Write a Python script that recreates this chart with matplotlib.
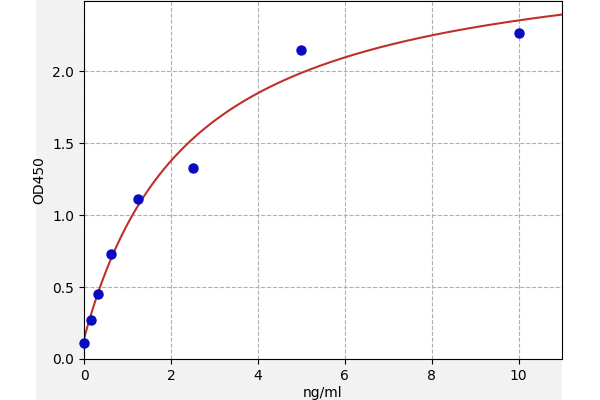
import numpy as np
import matplotlib
matplotlib.use('Agg')
import matplotlib.pyplot as plt
from matplotlib.patches import Rectangle

# standard points (ng/ml vs OD450)
conc = [0, 0.156, 0.3125, 0.625, 1.25, 2.5, 5, 10]
od450 = [0.111, 0.273, 0.453, 0.731, 1.113, 1.326, 2.148, 2.268]

# 4PL fit parameters: bottom, slope, ec50, top
fit_a = 0.14
fit_b = 1.0
fit_c = 2.46
fit_d = 2.9

x_ticks = [0, 2, 4, 6, 8, 10]
y_ticks = [0.0, 0.5, 1.0, 1.5, 2.0]


def four_pl(x, a, b, c, d):
    return d + (a - d) / (1 + (x / c) ** b)


fig = plt.figure(figsize=(6, 4), dpi=100)
fig.patch.set_facecolor('white')
# grey background block of the cropped figure
fig.patches.append(Rectangle((36 / 600, 0), (562 - 36) / 600, 1, transform=fig.transFigure,
                             facecolor='#f2f2f2', edgecolor='none', zorder=-10))

ax = fig.add_axes([84 / 600, 41 / 400, (562 - 84) / 600, (359 - 1) / 400])
ax.set_facecolor('white')

xx = np.linspace(0, 11, 400)
ax.plot(xx, four_pl(xx, fit_a, fit_b, fit_c, fit_d), '-', color='#c0302a', lw=1.5, zorder=2)
ax.plot(conc, od450, 'o', color='#0a0ac0', markersize=6.5, zorder=3, clip_on=False)

ax.set_xlim(0, 11)
ax.set_ylim(0, 2.49)
ax.set_xticks(x_ticks)
ax.set_yticks(y_ticks)
ax.grid(True, linestyle='--', color='#b0b0b0', linewidth=0.8)
ax.set_axisbelow(True)
ax.set_xlabel('ng/ml', labelpad=2)
ax.set_ylabel('OD450')

fig.savefig('out.png', dpi=100, facecolor=fig.get_facecolor())
